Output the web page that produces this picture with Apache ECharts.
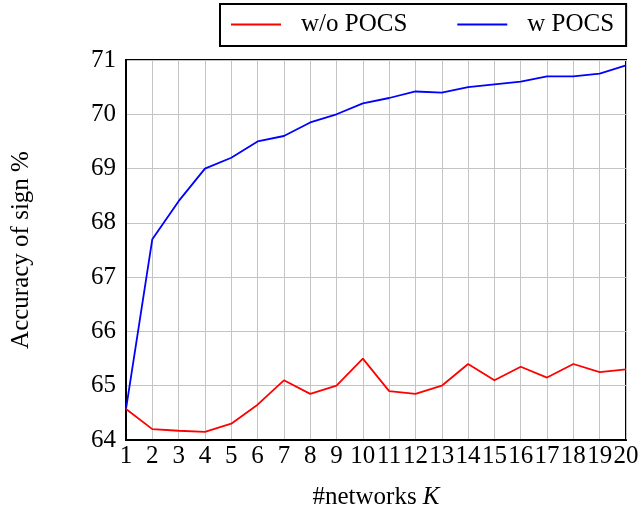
<!DOCTYPE html>
<html>
<head>
<meta charset="utf-8">
<script src="https://cdn.jsdelivr.net/npm/echarts@6/dist/echarts.min.js"></script>
<style>
  html, body { margin: 0; padding: 0; background: #fff; }
  #chart { width: 643px; height: 510px; }
</style>
</head>
<body>
<div id="chart"></div>
<script>
// data
const networks = [1, 2, 3, 4, 5, 6, 7, 8, 9, 10, 11, 12, 13, 14, 15, 16, 17, 18, 19, 20];
const withoutPocs = [64.57, 64.2, 64.17, 64.15, 64.3, 64.65, 65.1, 64.85, 65.0, 65.5,
                     64.9, 64.85, 65.0, 65.4, 65.1, 65.35, 65.15, 65.4, 65.25, 65.3];
const withPocs = [64.57, 67.7, 68.4, 69.0, 69.2, 69.5, 69.6, 69.85, 70.0, 70.2,
                  70.3, 70.42, 70.4, 70.5, 70.55, 70.6, 70.7, 70.7, 70.75, 70.9];
const seriesNames = ['w/o POCS', 'w POCS'];

const font = 'Liberation Serif, Times New Roman, serif';
const fontSize = 25;
const gridColor = '#c4c4c4';

function pairs(ys) {
  return networks.map((x, i) => [x, ys[i]]);
}

let chart = echarts.init(document.getElementById('chart'));
let option = {
  backgroundColor: '#fff',
  animation: false,
  textStyle: { fontFamily: font, color: '#000' },
  legend: {
    left: 220,
    top: 4,
    itemWidth: 50,
    itemHeight: 2,
    itemGap: 50,
    padding: [8, 12, 9, 11],
    borderColor: '#000',
    borderWidth: 2,
    borderRadius: 0,
    icon: 'rect',
    textStyle: { fontFamily: font, fontSize: fontSize, color: '#000', padding: [0, 0, 0, 15] },
    data: seriesNames
  },
  grid: {
    left: 126,
    right: 17,
    top: 60,
    bottom: 70,
    outerBoundsMode: 'none',
    show: true,
    borderColor: '#000',
    borderWidth: 2
  },
  xAxis: {
    type: 'value',
    min: 1,
    max: 20,
    interval: 1,
    name: '#networks {i|K}',
    nameLocation: 'middle',
    nameGap: 45,
    nameTextStyle: {
      fontFamily: font, fontSize: fontSize, color: '#000',
      rich: { i: { fontFamily: font, fontSize: fontSize, fontStyle: 'italic', color: '#000' } }
    },
    axisLine: { show: true, lineStyle: { color: '#000', width: 2 } },
    axisTick: { show: false },
    axisLabel: { fontFamily: font, fontSize: fontSize, color: '#000', margin: 4, hideOverlap: false },
    splitLine: { show: true, lineStyle: { color: gridColor, width: 1 } }
  },
  yAxis: {
    type: 'value',
    min: 64,
    max: 71,
    interval: 1,
    name: 'Accuracy of sign %',
    nameLocation: 'middle',
    nameGap: 92,
    nameTextStyle: { fontFamily: font, fontSize: fontSize, color: '#000' },
    axisLine: { show: true, lineStyle: { color: '#000', width: 2 } },
    axisTick: { show: false },
    axisLabel: { fontFamily: font, fontSize: fontSize, color: '#000', margin: 10 },
    splitLine: { show: true, lineStyle: { color: gridColor, width: 1 } }
  },
  series: [
    {
      name: seriesNames[0],
      type: 'line',
      symbol: 'none',
      data: pairs(withoutPocs),
      itemStyle: { color: '#ff0000' },
      lineStyle: { color: '#ff0000', width: 1.8 },
      z: 3
    },
    {
      name: seriesNames[1],
      type: 'line',
      symbol: 'none',
      data: pairs(withPocs),
      itemStyle: { color: '#0000ff' },
      lineStyle: { color: '#0000ff', width: 1.8 },
      z: 2
    }
  ]
};
chart.setOption(option);
</script>
</body>
</html>
